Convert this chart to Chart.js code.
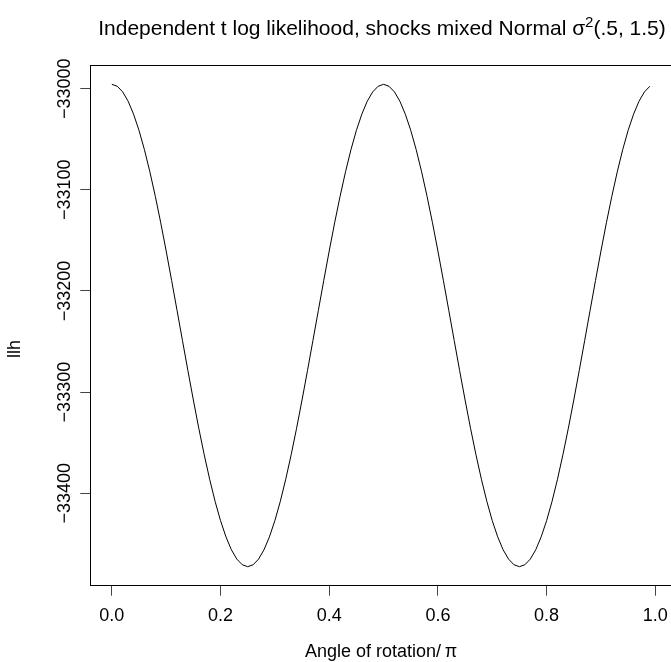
<!DOCTYPE html>
<html>
<head>
<meta charset="utf-8">
<script src="https://cdn.jsdelivr.net/npm/chart.js@4/dist/chart.umd.min.js"></script>
<style>
  html, body { margin: 0; padding: 0; background: #fff; overflow: hidden; }
  #wrap { width: 680px; height: 662px; }
</style>
</head>
<body>
<div id="wrap"><canvas id="llhChart" width="680" height="662"></canvas></div>
<script>
// angle of rotation / pi
const angle = [0.00, 0.01, 0.02, 0.03, 0.04, 0.05, 0.06, 0.07, 0.08, 0.09,
    0.10, 0.11, 0.12, 0.13, 0.14, 0.15, 0.16, 0.17, 0.18, 0.19,
    0.20, 0.21, 0.22, 0.23, 0.24, 0.25, 0.26, 0.27, 0.28, 0.29,
    0.30, 0.31, 0.32, 0.33, 0.34, 0.35, 0.36, 0.37, 0.38, 0.39,
    0.40, 0.41, 0.42, 0.43, 0.44, 0.45, 0.46, 0.47, 0.48, 0.49,
    0.50, 0.51, 0.52, 0.53, 0.54, 0.55, 0.56, 0.57, 0.58, 0.59,
    0.60, 0.61, 0.62, 0.63, 0.64, 0.65, 0.66, 0.67, 0.68, 0.69,
    0.70, 0.71, 0.72, 0.73, 0.74, 0.75, 0.76, 0.77, 0.78, 0.79,
    0.80, 0.81, 0.82, 0.83, 0.84, 0.85, 0.86, 0.87, 0.88, 0.89,
    0.90, 0.91, 0.92, 0.93, 0.94, 0.95, 0.96, 0.97, 0.98, 0.99]
// log likelihood
const llh = [-32995.7, -32997.6, -33003.2, -33012.4, -33025.2, -33041.2, -33060.3, -33082.2, -33106.4, -33132.6,
    -33160.5, -33189.5, -33219.2, -33249.1, -33278.8, -33307.8, -33335.7, -33361.9, -33386.1, -33408.0,
    -33427.1, -33443.1, -33455.9, -33465.1, -33470.7, -33472.6, -33470.7, -33465.1, -33455.9, -33443.1,
    -33427.1, -33408.0, -33386.1, -33361.9, -33335.7, -33307.8, -33278.8, -33249.1, -33219.2, -33189.5,
    -33160.5, -33132.6, -33106.4, -33082.2, -33060.3, -33041.2, -33025.2, -33012.4, -33003.2, -32997.6,
    -32995.7, -32997.6, -33003.2, -33012.4, -33025.2, -33041.2, -33060.3, -33082.2, -33106.4, -33132.6,
    -33160.5, -33189.5, -33219.2, -33249.1, -33278.8, -33307.8, -33335.7, -33361.9, -33386.1, -33408.0,
    -33427.1, -33443.1, -33455.9, -33465.1, -33470.7, -33472.6, -33470.7, -33465.1, -33455.9, -33443.1,
    -33427.1, -33408.0, -33386.1, -33361.9, -33335.7, -33307.8, -33278.8, -33249.1, -33219.2, -33189.5,
    -33160.5, -33132.6, -33106.4, -33082.2, -33060.3, -33041.2, -33025.2, -33012.4, -33003.2, -32997.6]
const xTicks = [0.0, 0.2, 0.4, 0.6, 0.8, 1.0]
const yTicks = [-33400, -33300, -33200, -33100, -33000]

const FONT = '"Liberation Sans", Arial, Helvetica, sans-serif'

function fmtY(v) {
    return v < 0 ? '\u2212' + Math.abs(v) : String(v)
}

// R style box, rotated y labels and titles
const rText = {
    id: 'rText',
    afterDraw(chart) {
        const ctx = chart.ctx
        const a = chart.chartArea
        const ys = chart.scales.y
        ctx.save()
        ctx.strokeStyle = '#000'
        ctx.lineWidth = 1
        ctx.strokeRect(Math.floor(a.left) + 0.5, Math.floor(a.top) + 0.5,
            Math.floor(a.right) - Math.floor(a.left), Math.floor(a.bottom) - Math.floor(a.top))

        ctx.fillStyle = '#000'
        ctx.font = '18px ' + FONT
        ctx.textAlign = 'center'
        ctx.textBaseline = 'alphabetic'
        yTicks.forEach(v => {
            const py = ys.getPixelForValue(v)
            ctx.save()
            ctx.translate(70, py)
            ctx.rotate(-Math.PI / 2)
            ctx.fillText(fmtY(v), 0, 0)
            ctx.restore()
        })

        // y label
        ctx.save()
        ctx.translate(20, 349)
        ctx.rotate(-Math.PI / 2)
        ctx.fillText('llh', 0, 0)
        ctx.restore()

        // x label
        ctx.fillText('Angle of rotation/\u2009\u03c0', 381, 657)

        // main title with superscript
        const big = '21px ' + FONT
        const small = '15px ' + FONT
        const p1 = 'Independent t log likelihood, shocks mixed Normal \u03c3'
        const p2 = '2'
        const p3 = '(.5, 1.5)'
        ctx.font = big
        const w1 = ctx.measureText(p1).width
        const w3 = ctx.measureText(p3).width
        ctx.font = small
        const w2 = ctx.measureText(p2).width
        let x0 = 382 - (w1 + w2 + w3) / 2
        const base = 35
        ctx.textAlign = 'left'
        ctx.font = big
        ctx.fillText(p1, x0, base)
        ctx.font = small
        ctx.fillText(p2, x0 + w1, base - 8)
        ctx.font = big
        ctx.fillText(p3, x0 + w1 + w2, base)
        ctx.restore()
    }
}

const ctx = document.getElementById('llhChart')
const llhChart = new Chart(ctx, {
    type: 'line',
    data: {
        datasets: [{
            data: angle.map((x, i) => ({ x: x, y: llh[i] })),
            borderColor: '#000',
            borderWidth: 1,
            pointRadius: 0,
            tension: 0,
            fill: false
        }]
    },
    options: {
        responsive: false,
        animation: false,
        events: [],
        layout: { padding: { left: 0, top: 65, right: 8.6, bottom: 0 } },
        plugins: {
            legend: { display: false },
            title: { display: false },
            tooltip: { enabled: false }
        },
        scales: {
            x: {
                type: 'linear',
                min: -0.0396,
                max: 1.0296,
                afterBuildTicks: (scale) => { scale.ticks = xTicks.map(v => ({ value: v })) },
                afterFit: (scale) => { scale.height = 76.3 },
                border: { display: false },
                grid: { drawOnChartArea: false, drawTicks: true, tickLength: 10, color: '#444', lineWidth: 1 },
                ticks: {
                    autoSkip: false,
                    maxRotation: 0,
                    padding: 10,
                    color: '#000',
                    font: { family: FONT, size: 18, lineHeight: 1.2 },
                    callback: (v) => Number(v).toFixed(1)
                }
            },
            y: {
                type: 'linear',
                min: -33491.4,
                max: -32976.6,
                afterBuildTicks: (scale) => { scale.ticks = yTicks.map(v => ({ value: v })) },
                afterFit: (scale) => { scale.width = 90.3 },
                border: { display: false },
                grid: { drawOnChartArea: false, drawTicks: true, tickLength: 10, color: '#444', lineWidth: 1 },
                ticks: { display: false }
            }
        }
    },
    plugins: [rText]
})
</script>
</body>
</html>
